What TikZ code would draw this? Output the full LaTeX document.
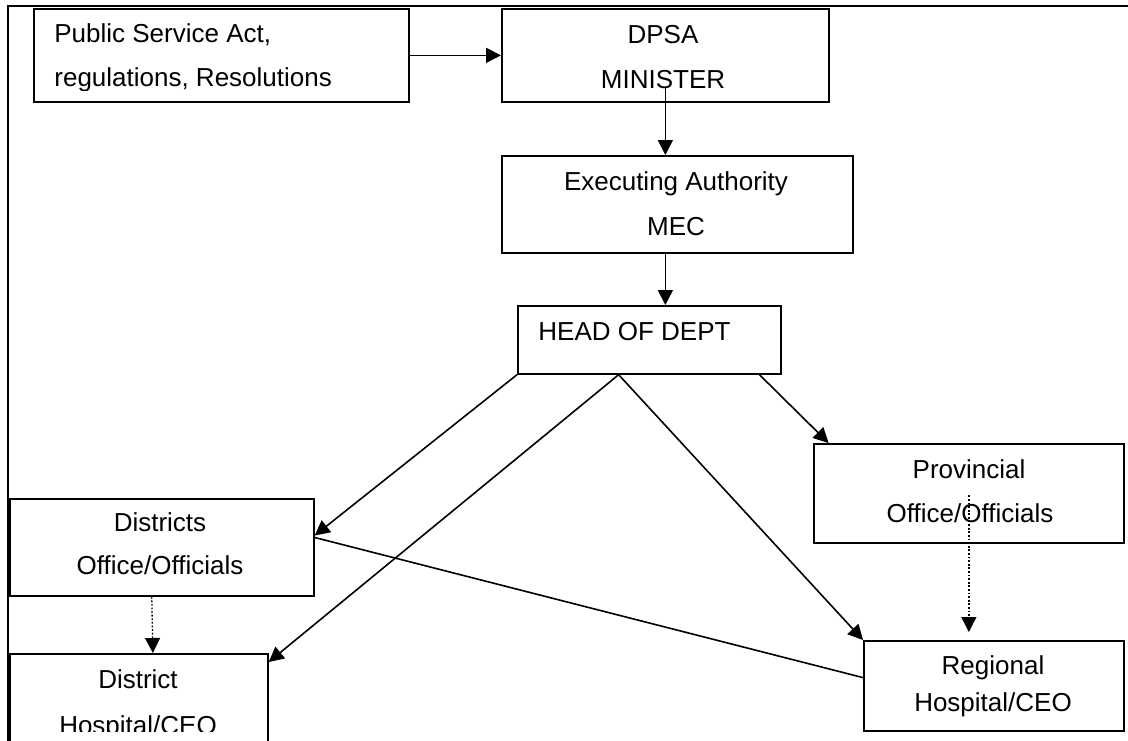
\documentclass[tikz,border=0pt]{standalone}
\usepackage{fontspec}
\setmainfont{Liberation Sans}
\usetikzlibrary{arrows.meta,calc}
\begin{document}
\begin{tikzpicture}[x=0.5pt,y=-0.5pt,
  box/.style={draw,line width=0.85pt,inner sep=0pt,anchor=north west},
  txt/.style={font=\fontsize{13}{15}\selectfont,inner sep=0pt,anchor=base},
  txtl/.style={font=\fontsize{13}{15}\selectfont,inner sep=0pt,anchor=base west},
  arr/.style={line width=0.8pt,-{Triangle[length=7.5pt,width=7.5pt]}},
  dotarr/.style={line width=0.65pt,dash pattern=on 0.9pt off 0.9pt,-{Triangle[length=7.5pt,width=7.5pt]}},
  plain/.style={line width=0.8pt}]
\useasboundingbox (0,0) rectangle (1128,740);
\clip (0,0) rectangle (1128,740);
% frame
\draw[line width=1.1pt] (1130,6) -- (8,6) -- (8,745);
% boxes
\node[box,minimum width=187.5pt,minimum height=46.5pt] (act) at (33,8) {};
\node[box,minimum width=163.5pt,minimum height=46.5pt] (dpsa) at (501,8) {};
\node[box,minimum width=175.5pt,minimum height=48.5pt] (exec) at (501,155) {};
\node[box,minimum width=131.5pt,minimum height=34pt] (head) at (517,305) {};
\node[box,minimum width=155pt,minimum height=49.5pt] (prov) at (813,443) {};
\node[box,minimum width=152pt,minimum height=48.5pt] (dist) at (9,498) {};
\node[box,minimum width=129pt,minimum height=60pt] (dhosp) at (9,653) {};
\node[box,minimum width=130pt,minimum height=45pt] (reg) at (863,640) {};
% texts
\begin{scope}
\clip (33,8) rectangle (408,90);
\node[txtl] (t1) at (54,42) {Public Service Act,};
\node[txtl] (t2) at (54,86) {regulations, Resolutions};
\end{scope}
\node[txt] (t3) at (663,43) {DPSA};
\node[txt] (t4) at (663,88) {MINISTER};
\node[txt] (t5) at (676,190) {Executing Authority};
\node[txt] (t6) at (676,235) {MEC};
\node[txtl] (t7) at (538,340) {HEAD OF DEPT};
\node[txt] (t8) at (969,478) {Provincial};
\node[txt] (t9) at (970,522) {Office/Officials};
\node[txt] (t10) at (160,531) {Districts};
\node[txt] (t11) at (160,574) {Office/Officials};
\node[txt] (t12) at (138,688) {District};
\begin{scope}
\clip (9,653) rectangle (267,731);
\node[txt] (t13) at (138,734) {Hospital/CEO};
\end{scope}
\node[txt] (t14) at (993,674) {Regional};
\node[txt] (t15) at (993,711) {Hospital/CEO};
% connectors
\draw[arr] (act.east) -- (dpsa.west);
\draw[arr] ([yshift=-16.5pt]dpsa.center) -- (dpsa.center |- exec.north);
\draw[arr] (dpsa.center |- exec.south) -- (dpsa.center |- head.north);
\draw[arr] (head.south west) -- ($(dist.north east)!0.38!(dist.south east)$);
\draw[arr] ($(head.south west)!0.384!(head.south east)$) -- ([yshift=-4.5pt]dhosp.north east);
\draw[arr] ($(head.south west)!0.384!(head.south east)$) -- (reg.north west);
\draw[arr] ($(head.south west)!0.916!(head.south east)$) -- ($(prov.north west)!0.05!(prov.north east)$);
\draw[plain] ($(dist.north east)!0.40!(dist.south east)$) -- ($(reg.north west)!0.41!(reg.south west)$);
\draw[dotarr] ($(dist.south west)!0.467!(dist.south east)$) -- ($(dhosp.north west)!0.554!(dhosp.north east)$);
\draw[dotarr,shorten >=4pt] ([yshift=-1pt]prov.center) -- (prov.center |- reg.north);
\end{tikzpicture}
\end{document}
